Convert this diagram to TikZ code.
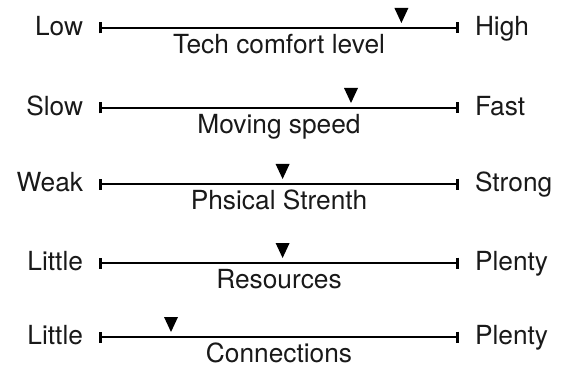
\documentclass[tikz,border=0pt]{standalone}
\usepackage{fontspec}
\setmainfont{TeX Gyre Heros}
\usetikzlibrary{positioning, calc, arrows.meta}
\tikzset{
	scale line/.style={line width=2.6pt, {Bar[width=11pt]}-{Bar[width=11pt]}},
	end label/.style={
		font=\fontsize{26.3}{31}\selectfont,
		text=black!90,
		inner sep=0pt,
		outer sep=0pt
	},
	scale caption/.style={
		end label,
		anchor=base
	},
	pointer/.style={fill=black}
}
\newcommand{\sliderrow}[6]{% name, y, left text, right text, caption, pointer position
	\coordinate (#1-a) at (99,#2);
	\coordinate (#1-b) at (459,#2);
	\draw[scale line] (#1-a) -- (#1-b);
	\node[end label, left=16pt of #1-a, anchor=base east, yshift=-7.3pt] (#1-lo) {#3};
	\node[end label, right=16pt of #1-b, anchor=base west, yshift=-7.3pt] (#1-hi) {#4};
	\node[scale caption] (#1-cap) at ($(#1-a)!0.5!(#1-b)+(0,25.5)$) {#5};
	\coordinate (#1-pt) at ($(#1-a)!#6!(#1-b)+(0,-5)$);
	\fill[pointer] (#1-pt) -- ++(-7,-15) -- ++(14,0) -- cycle
}

\begin{document}
\begin{tikzpicture}[x=1pt, y=-1pt]
	\useasboundingbox (0,0) rectangle (572,366);
	\sliderrow{tech}{28}{Low}{High}{Tech comfort level}{0.84};
	\sliderrow{speed}{108}{Slow}{Fast}{Moving speed}{0.70};
	\sliderrow{strength}{184}{Weak}{Strong}{Phsical Strenth}{0.51};
	\sliderrow{res}{263}{Little}{Plenty}{Resources}{0.51};
	\sliderrow{conn}{337}{Little}{Plenty}{Connections}{0.20};
\end{tikzpicture}
\end{document}
